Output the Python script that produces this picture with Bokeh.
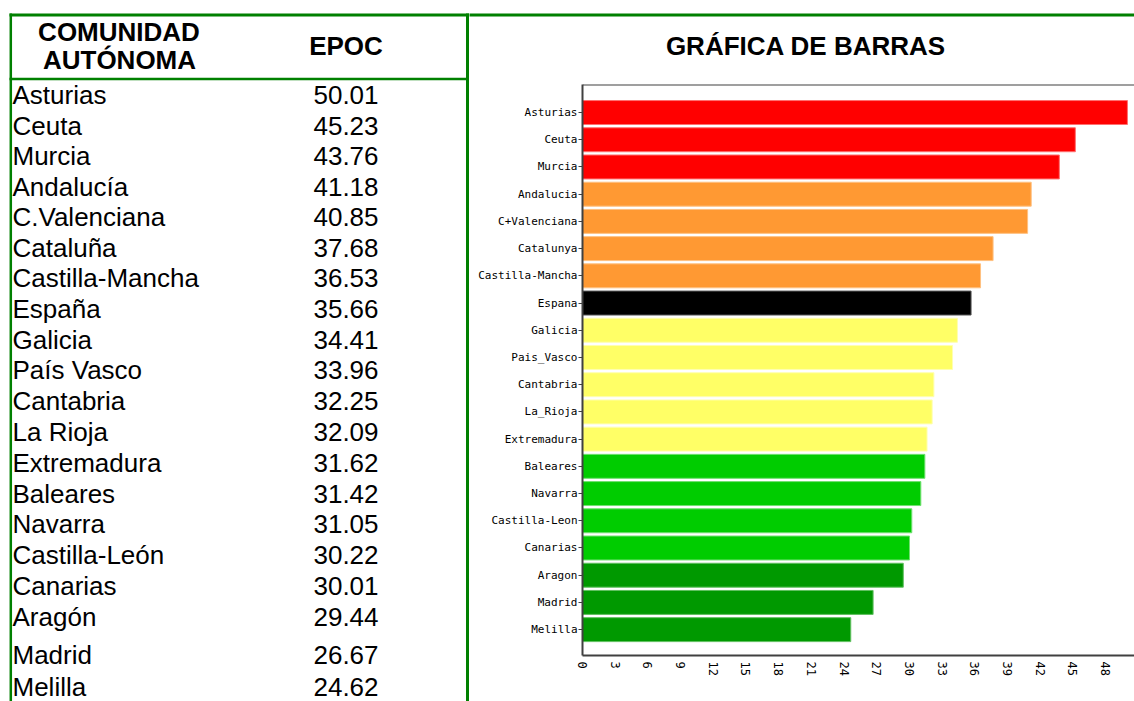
from bokeh.plotting import figure
from bokeh.layouts import column, row
from bokeh.models import Range1d, FixedTicker, Span, ColumnDataSource
from bokeh.core.properties import value
from bokeh.embed import file_html
from bokeh.resources import INLINE

# ---------------- data ----------------
table_names = ["Asturias", "Ceuta", "Murcia", "Andalucía", "C.Valenciana", "Cataluña",
               "Castilla-Mancha", "España", "Galicia", "País Vasco", "Cantabria", "La Rioja",
               "Extremadura", "Baleares", "Navarra", "Castilla-León", "Canarias", "Aragón",
               "Madrid", "Melilla"]
chart_labels = ["Asturias", "Ceuta", "Murcia", "Andalucia", "C+Valenciana", "Catalunya",
                "Castilla-Mancha", "Espana", "Galicia", "Pais_Vasco", "Cantabria", "La_Rioja",
                "Extremadura", "Baleares", "Navarra", "Castilla-Leon", "Canarias", "Aragon",
                "Madrid", "Melilla"]
epoc = [50.01, 45.23, 43.76, 41.18, 40.85, 37.68, 36.53, 35.66, 34.41, 33.96, 32.25, 32.09,
        31.62, 31.42, 31.05, 30.22, 30.01, 29.44, 26.67, 24.62]
groups = ["red"] * 3 + ["orange"] * 4 + ["black"] + ["yellow"] * 5 + ["green"] * 4 + ["dkgreen"] * 3
x_ticks = [0, 3, 6, 9, 12, 15, 18, 21, 24, 27, 30, 33, 36, 39, 42, 45, 48]
header_left = ["COMUNIDAD", "AUTÓNOMA"]
header_right = "EPOC"
chart_title = "GRÁFICA DE BARRAS"

# ---------------- styles ----------------
FILL = {"red": "#ff0000", "orange": "#ff9933", "black": "#000000",
        "yellow": "#ffff66", "green": "#00cc00", "dkgreen": "#009900"}
EDGE = {"red": "#ff7070", "orange": "#ffc080", "black": "#555555",
        "yellow": "#ffffb0", "green": "#70e070", "dkgreen": "#60c060"}
GREEN = "#008000"
ARIAL = value("Liberation Sans")
FIX = 9.5  # baseline correction for 26px text

W_TOTAL = 1134
H_TOTAL = 701
LEFT_W = 469        # page x 0..469
RIGHT_W = W_TOTAL - LEFT_W
TITLE_H = 80        # page y 0..80
CHART_H = H_TOTAL - TITLE_H


def blank(width, height, xr, yr):
    f = figure(width=width, height=height, x_range=Range1d(*xr), y_range=Range1d(*yr),
               output_backend="svg", toolbar_location=None, min_border=0)
    f.axis.visible = False
    f.grid.visible = False
    f.outline_line_color = None
    f.background_fill_color = "white"
    f.border_fill_color = "white"
    return f


# ---------------- left: header + table ----------------
row_baselines = [104.3, 134.8, 165.3, 195.8, 226.3, 256.8, 287.3, 318.0, 349.0, 379.3,
                 410.1, 440.9, 471.7, 502.5, 533.3, 564.1, 595.0, 625.7, 664.0, 696.0]
left = blank(LEFT_W, H_TOTAL, (0, LEFT_W), (H_TOTAL, 0))
left.line([9, LEFT_W], [14.5, 14.5], line_color=GREEN, line_width=3)
left.line([10.3, 10.3], [13, 710], line_color=GREEN, line_width=2.5)
left.line([467, 467], [13, 710], line_color=GREEN, line_width=3)
left.line([9, 468], [78.5, 78.5], line_color=GREEN, line_width=2.5)
left.text(x=[118.5, 119], y=[40.7 - FIX, 69.3 - FIX], text=header_left, text_font=ARIAL,
          text_font_style="bold", text_font_size="26px", text_align="center",
          text_baseline="alphabetic", text_color="black")
left.text(x=[345.5], y=[55 - FIX], text=[header_right], text_font=ARIAL,
          text_font_style="bold", text_font_size="26px", text_align="center",
          text_baseline="alphabetic", text_color="black")
ys = [b - FIX for b in row_baselines]
left.text(x=[12] * len(table_names), y=ys, text=table_names, text_font=ARIAL,
          text_font_size="26px", text_align="left", text_baseline="alphabetic",
          text_color="black")
left.text(x=[345.5] * len(epoc), y=ys, text=["%.2f" % v for v in epoc],
          text_font=ARIAL, text_font_size="26px", text_align="center",
          text_baseline="alphabetic", text_color="black")

# ---------------- right top: green line + title ----------------
title_fig = blank(RIGHT_W, TITLE_H, (LEFT_W, W_TOTAL), (TITLE_H, 0))
title_fig.line([LEFT_W - 2, W_TOTAL], [14.5, 14.5], line_color=GREEN, line_width=3)
title_fig.text(x=[805.5], y=[55 - FIX], text=[chart_title], text_font=ARIAL,
               text_font_style="bold", text_font_size="26px", text_align="center",
               text_baseline="alphabetic", text_color="black")

# ---------------- bar chart ----------------
pos = list(range(len(epoc)))
src = ColumnDataSource(dict(y=pos, v=epoc,
                            fill=[FILL[g] for g in groups],
                            edge=[EDGE[g] for g in groups]))
y_top, y_bot = -1.03, 19.95
chart = figure(width=RIGHT_W, height=CHART_H, output_backend="svg", toolbar_location=None,
               x_range=Range1d(0, 50.66), y_range=Range1d(y_bot, y_top),
               min_border_left=582 - LEFT_W, min_border_right=0,
               min_border_top=84 - TITLE_H, min_border_bottom=H_TOTAL - 655)
chart.hbar(y="y", left=0, right="v", height=0.88, fill_color="fill", line_color="edge",
           line_width=1, source=src)
chart.outline_line_color = None
chart.grid.visible = False
chart.background_fill_color = "white"
chart.border_fill_color = "white"
chart.add_layout(Span(location=y_top, dimension="width", line_color="#404040", line_width=2))

chart.yaxis.ticker = FixedTicker(ticks=pos)
chart.yaxis.major_label_overrides = {i: lab for i, lab in zip(pos, chart_labels)}
chart.yaxis.major_label_text_font = "DejaVu Sans Mono"
chart.yaxis.major_label_text_font_size = "11px"
chart.yaxis.major_label_text_color = "black"
chart.yaxis.major_tick_out = 4
chart.yaxis.major_tick_in = 0
chart.yaxis.minor_tick_line_color = None
chart.yaxis.major_label_standoff = 1
chart.yaxis.axis_line_color = "#404040"
chart.yaxis.axis_line_width = 2
chart.yaxis.major_tick_line_color = "#404040"

chart.xaxis.ticker = FixedTicker(ticks=x_ticks)
chart.xaxis.major_label_orientation = "vertical"
chart.xaxis.major_label_text_font = "DejaVu Sans Mono"
chart.xaxis.major_label_text_font_size = "12px"
chart.xaxis.major_label_text_color = "black"
chart.xaxis.major_tick_out = 0
chart.xaxis.major_tick_in = 0
chart.xaxis.minor_tick_line_color = None
chart.xaxis.major_label_standoff = 6
chart.xaxis.axis_line_color = "#404040"
chart.xaxis.axis_line_width = 2

layout = row(column(left, spacing=0), column(title_fig, row(chart, spacing=0), spacing=0), spacing=0)

open("out.html", "w").write(file_html(layout, INLINE))
